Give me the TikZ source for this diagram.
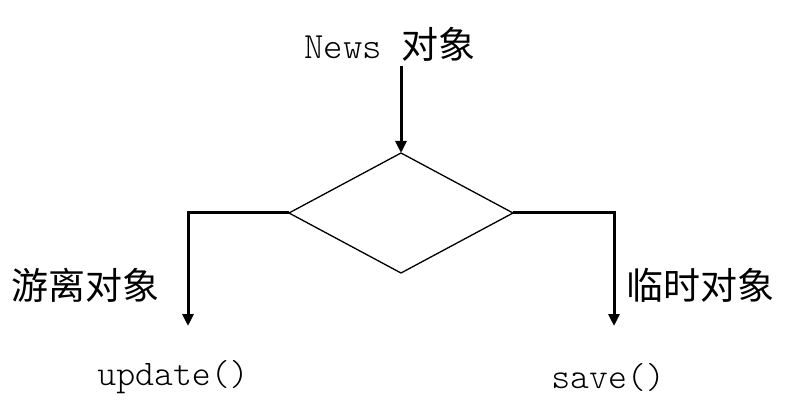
\documentclass[tikz,border=0pt]{standalone}
\usepackage{fontspec}
\setmainfont{Noto Sans CJK SC}
\setmonofont{Latin Modern Mono Light}
\usetikzlibrary{shapes.geometric,arrows.meta,positioning}

\tikzset{
    flow/.style={line width=3pt, -{Triangle[length=12pt,width=11pt]}},
    cjklabel/.style={font=\fontsize{37}{40}\selectfont, inner sep=0pt},
    codelabel/.style={font=\fontsize{36}{38}\selectfont\ttfamily, inner sep=0pt}
}

\begin{document}
\begin{tikzpicture}[x=1pt,y=-1pt]
    \useasboundingbox (0,0) rectangle (799,411);

    \node[inner sep=0pt] (news) at (390,44) {\fontsize{37}{38}\selectfont\ttfamily News \fontsize{37}{40}\rmfamily 对象};
    \node[draw, diamond, line width=1.3pt, minimum width=224pt, minimum height=120pt, inner sep=0pt, outer sep=0pt] (dec) at (401,213) {};

    \node[cjklabel] (lost) at (85,285) {游离对象};
    \node[cjklabel] (temp) at (700,285) {临时对象};
    \node[codelabel] (upd) at (173,377) {update()};
    \node[codelabel] (sav) at (608,377) {save()};

    \coordinate (lend) at (188,326);
    \coordinate (rend) at (614,326);

    % incoming object
    \draw[flow] (dec.north |- news.south) ++(0,5) -- (dec.north);
    % the two branches
    \draw[flow] (dec.west) -| (lend);
    \draw[flow] (dec.east) -| (rend);
\end{tikzpicture}
\end{document}
